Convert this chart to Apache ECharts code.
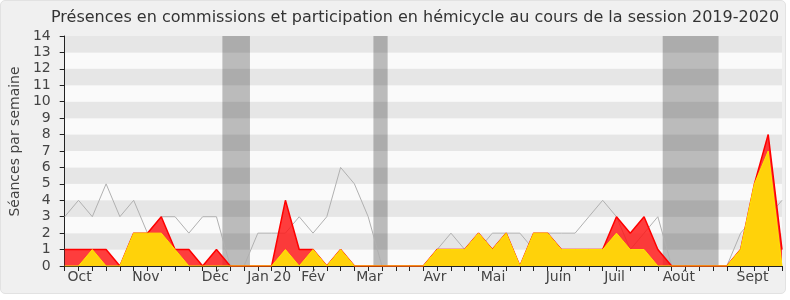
<!DOCTYPE html>
<html><head><meta charset="utf-8">
<script src="https://cdn.jsdelivr.net/npm/echarts@6/dist/echarts.min.js"></script>
<style>
html,body{margin:0;padding:0;background:#fff;}
#bg{position:absolute;left:0;top:0;width:784px;height:292px;background:#f0f0f0;border:1px solid #e2e2e2;border-radius:5px;}
#chart{position:absolute;left:0;top:0;width:790px;height:300px;}
</style></head>
<body>
<div id="bg"></div>
<div id="chart"></div>
<script>
// weekly values, week 0 = start of session (late Sept 2019) ... week 52
const greyWeekly = [3,4,3,5,3,4,2,3,3,2,3,3,0,0,2,2,2,3,2,3,6,5,3,0,0,0,0,1,2,1,1,2,2,2,1,2,2,2,3,4,3,1,2,3,0,0,0,0,0,2,3,3,4];
const redWeekly = [1,1,1,1,0,2,2,3,1,1,0,1,0,0,0,0,4,1,1,0,1,0,0,0,0,0,0,1,1,1,2,1,2,0,2,2,1,1,1,1,3,2,3,1,0,0,0,0,0,1,5,8,1];
const yellowWeekly = [0,0,1,0,0,2,2,2,1,0,0,0,0,0,0,0,1,0,1,0,1,0,0,0,0,0,0,1,1,1,2,1,2,0,2,2,1,1,1,1,2,1,1,0,0,0,0,0,0,1,5,7,0];
// month tick labels and their week positions
const monthLabels = ['Oct','Nov','Déc','Jan 20','Fév','Mar','Avr','Mai','Juin','Juil','Août','Sept'];
const monthWeeks = [1.08,5.89,10.92,14.82,18.02,22.09,26.85,31.05,35.8,39.86,44.52,49.86];
// holiday periods (week ranges)
const holidayWeeks = [[11.43,13.43],[22.38,23.41],[43.35,47.4]];
const yTicks = [0,1,2,3,4,5,6,7,8,9,10,11,12,13,14];

const weeks = greyWeekly.map((_, i) => i);
const toPairs = arr => arr.map((v, i) => [i, v]);
const font = 'DejaVu Sans';

const chart = echarts.init(document.getElementById('chart'), null, {renderer: 'canvas'});
chart.setOption({
  backgroundColor: 'transparent',
  animation: false,
  title: {
    text: 'Présences en commissions et participation en hémicycle au cours de la session 2019-2020',
    left: 46, top: 5,
    textStyle: {fontFamily: font, fontSize: 16, fontWeight: 'normal', color: '#333'}
  },
  grid: {left: 62, right: 8, top: 36, bottom: 34, containLabel: false},
  xAxis: [{
    type: 'value', min: 0, max: weeks.length - 1, interval: 1,
    axisLine: {show: true, onZero: false, lineStyle: {color: '#222', width: 1}},
    axisTick: {show: true, length: 5, lineStyle: {color: '#222'}},
    axisLabel: {
      show: true, margin: 4, customValues: monthWeeks,
      fontFamily: font, fontSize: 14, color: '#444',
      formatter: v => { const k = monthWeeks.indexOf(v); return k >= 0 ? monthLabels[k] : ''; }
    },
    splitLine: {show: false}
  }, {
    type: 'value', position: 'top', min: 0, max: weeks.length - 1, interval: 1,
    axisLine: {show: false},
    axisTick: {show: true, inside: true, length: 2, lineStyle: {color: '#222'}},
    axisLabel: {show: false},
    splitLine: {show: false}
  }],
  yAxis: {
    type: 'value', min: yTicks[0], max: yTicks[yTicks.length - 1], interval: 1,
    name: 'Séances par semaine', nameLocation: 'middle', nameGap: 39,
    nameTextStyle: {fontFamily: font, fontSize: 14, color: '#444', padding: [0, 0, 0, 19]},
    axisLine: {show: true, lineStyle: {color: '#222'}},
    axisTick: {show: true, length: 5, lineStyle: {color: '#222'}},
    axisLabel: {fontFamily: font, fontSize: 14, color: '#444', margin: 14},
    splitLine: {show: false},
    splitArea: {show: true, areaStyle: {color: ['#fafafa', '#e6e6e6']}}
  },
  series: [
    {
      type: 'line', name: 'holidays', data: [], z: 1, silent: true,
      markArea: {
        silent: true,
        itemStyle: {color: 'rgba(0,0,0,0.25)'},
        data: holidayWeeks.map(h => [{xAxis: h[0]}, {xAxis: h[1]}])
      }
    },
    {
      type: 'line', name: 'total', data: toPairs(greyWeekly), z: 2,
      symbol: 'none', lineStyle: {color: '#b0b0b0', width: 1}
    },
    {
      type: 'line', name: 'commissions', data: toPairs(redWeekly), z: 3,
      symbol: 'none', lineStyle: {color: '#ff0000', width: 1.5},
      areaStyle: {color: 'rgba(255,20,20,0.82)', opacity: 1}
    },
    {
      type: 'line', name: 'hemicycle', data: toPairs(yellowWeekly), z: 4,
      symbol: 'none', lineStyle: {color: '#ffe600', width: 1},
      areaStyle: {color: '#ffd20a', opacity: 1}
    }
  ]
});
</script>
</body></html>
